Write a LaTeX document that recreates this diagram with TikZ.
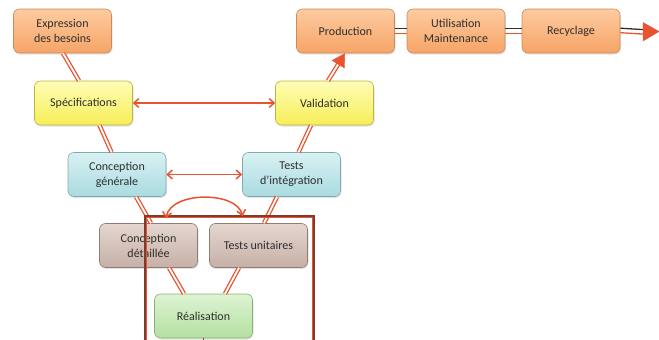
\documentclass[tikz,border=0pt]{standalone}
\usepackage{fontspec}
\setmainfont{Carlito}
\usetikzlibrary{arrows.meta,shadows,calc}

\definecolor{linered}{HTML}{E8542F}
\definecolor{framebrown}{HTML}{7F3B2C}
\definecolor{darkline}{HTML}{3A2A22}
\definecolor{textgray}{HTML}{2E2E2E}
\definecolor{orangetop}{HTML}{FDCBA0}
\definecolor{orangebot}{HTML}{F7A466}
\definecolor{orangeedge}{HTML}{C98B5E}
\definecolor{yellowtop}{HTML}{FFFDB5}
\definecolor{yellowbot}{HTML}{F6EE58}
\definecolor{yellowedge}{HTML}{BDB343}
\definecolor{cyantop}{HTML}{D9F1F3}
\definecolor{cyanbot}{HTML}{A9DBE0}
\definecolor{cyanedge}{HTML}{7FAAB0}
\definecolor{browntop}{HTML}{E4D6CF}
\definecolor{brownbot}{HTML}{C6B0A7}
\definecolor{brownedge}{HTML}{8E7C75}
\definecolor{greentop}{HTML}{DEF3D3}
\definecolor{greenbot}{HTML}{B4E0A1}
\definecolor{greenedge}{HTML}{86B276}

\tikzset{
  box/.style={rounded corners=6pt, minimum width=98pt, minimum height=44pt,
    align=center, inner sep=2pt, text=textgray, line width=0.6pt,
    drop shadow={opacity=0.22, shadow xshift=1pt, shadow yshift=-1.6pt}},
  orangebox/.style={box, draw=orangeedge, top color=orangetop, bottom color=orangebot},
  yellowbox/.style={box, draw=yellowedge, top color=yellowtop, bottom color=yellowbot},
  cyanbox/.style={box, draw=cyanedge, top color=cyantop, bottom color=cyanbot},
  brownbox/.style={box, draw=brownedge, top color=browntop, bottom color=brownbot},
  greenbox/.style={box, draw=greenedge, top color=greentop, bottom color=greenbot},
  link/.style={draw=linered, line width=1.3pt, double=white, double distance=1.8pt},
  harrow/.style={draw=linered, line width=1.5pt,
    {Straight Barb[length=5pt,width=9pt]}-{Straight Barb[length=5pt,width=9pt]}},
  bigtip/.style={draw=linered, fill=linered, line width=0.4pt,
    -{Triangle[length=13pt,width=15pt]}},
}

\begin{document}
\begin{tikzpicture}[x=1pt, y=-1pt, font=\fontsize{12}{15}\selectfont]
\useasboundingbox (0,0) rectangle (659,340);

% the steps of the cycle
\node[orangebox] (exp)  at (62.5,31)   {Expression\\des besoins};
\node[yellowbox] (spec) at (83.5,103)  {Spécifications};
\node[cyanbox]   (cg)   at (117,174.5) {Conception\\générale};
\node[brownbox]  (cd)   at (148.5,245.5) {Conception\\détaillée};
\node[greenbox]  (real) at (203.5,316) {Réalisation};
\node[brownbox]  (tu)   at (258.5,245.5) {Tests unitaires};
\node[cyanbox]   (ti)   at (291.5,174.5) {Tests\\d’intégration};
\node[yellowbox] (val)  at (324.5,103) {Validation};
\node[orangebox] (prod) at (345.5,31)  {Production};
\node[orangebox] (util) at (456,31)    {Utilisation\\Maintenance};
\node[orangebox] (rec)  at (571,31)    {Recyclage};

% links along the V
\draw[link] ([xshift=0.5pt]exp.south)  -- ([xshift=-4.5pt]spec.north);
\draw[link] ([xshift=16pt]spec.south)  -- ([xshift=-5.5pt]cg.north);
\draw[link] ([xshift=19pt]cg.south)    -- ([xshift=2.5pt]cd.north);
\draw[link] ([xshift=20.5pt]cd.south)  -- ([xshift=-19.5pt]real.north);
\draw[link] ([xshift=21.5pt]real.north) -- ([xshift=-19.5pt]tu.south);
\draw[link] ([xshift=5.5pt]tu.north)   -- ([xshift=-14.5pt]ti.south);
\draw[link] ([xshift=7pt]ti.north)     -- ([xshift=-13.5pt]val.south);

% validation leads to production
\coordinate (vp1) at ([xshift=3.5pt]val.north);
\coordinate (vp2) at ([xshift=-0.5pt]prod.south);
\draw[link, shorten >=9pt] (vp1) -- (vp2);
\draw[bigtip] ($(vp1)!0.8!(vp2)$) -- (vp2);

% production chain
\foreach \a/\b in {prod/util, util/rec}{
  \draw[darkline, line width=1.3pt] ([yshift=2.3pt]\a.east) -- ([yshift=2.3pt]\b.west);
  \draw[linered, line width=1.3pt] ([yshift=-2.2pt]\a.east) -- ([yshift=-2.2pt]\b.west);
}
\coordinate (out) at (659,31.5);
\coordinate (outbase) at (645,32);
\draw[darkline, line width=1.3pt] ([yshift=2.8pt]rec.east) -- ([yshift=2.3pt]outbase);
\draw[linered, line width=1.3pt] ([yshift=-1.7pt]rec.east) -- ([yshift=-2.2pt]outbase);
\draw[linered, fill=linered, line width=0.4pt, line join=miter]
  (643,22.5) -- (out) -- (643,41) -- cycle;

% correspondences between design and tests
\draw[harrow] (spec.east) -- (val.west);
\draw[harrow] (cg.east) -- (ti.west);

% the frame around the lower part of the V
\draw[framebrown, line width=2.2pt] (145,216) rectangle (314,346);
\draw[linered, line width=0.8pt] (146.8,217.8) rectangle (312.2,346);
\draw[framebrown, line width=1pt] (real.south) -- ++(0,4);

% loop between detailed design and unit tests
\coordinate (arcL) at ([shift={(17.5,-5)}]cd.north);
\coordinate (arcR) at ([shift={(-16,-7)}]tu.north);
\draw[harrow] (arcL) .. controls (171,191) and (237,191) .. (arcR);
\end{tikzpicture}
\end{document}
